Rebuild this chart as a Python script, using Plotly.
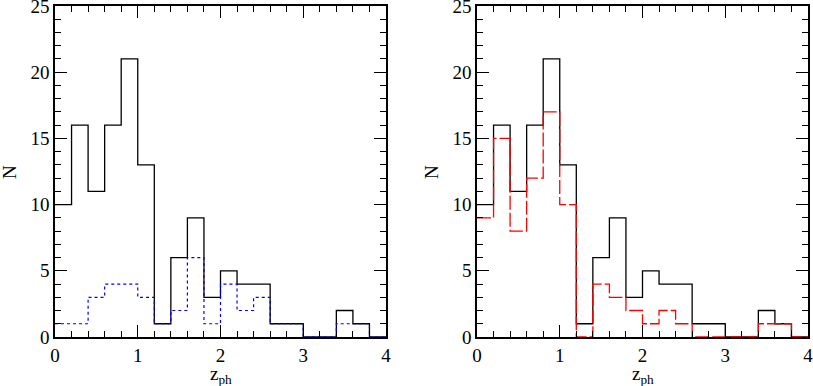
import plotly.graph_objects as go

# bin edges of the z_ph histograms (width 0.2)
edges = [round(0.2 * i, 1) for i in range(21)]

n_all = [10, 16, 11, 16, 21, 13, 1, 6, 9, 3, 5, 4, 4, 1, 1, 0, 0, 2, 1, 0]
n_blue = [1, 1, 3, 4, 4, 3, 1, 2, 6, 1, 4, 2, 3, 1, 1, 0, 0, 1, 1, 0]
n_red = [9, 15, 8, 12, 17, 10, 0, 4, 3, 2, 1, 2, 1, 0, 0, 0, 0, 1, 1, 0]

x_ticks = [0, 1, 2, 3, 4]
y_ticks = [0, 5, 10, 15, 20, 25]

font = "Liberation Serif"
W, H = 813, 386


def step(counts):
    return counts + [counts[-1]]


fig = go.Figure()

fig.add_scatter(x=edges, y=step(n_all), mode="lines", line_shape="hv",
                line=dict(color="black", width=1.3), xaxis="x", yaxis="y")
fig.add_scatter(x=edges, y=step(n_blue), mode="lines", line_shape="hv",
                line=dict(color="blue", width=1.2, dash="dot"), xaxis="x", yaxis="y")

fig.add_scatter(x=edges, y=step(n_all), mode="lines", line_shape="hv",
                line=dict(color="black", width=1.3), xaxis="x2", yaxis="y2")
fig.add_scatter(x=edges, y=step(n_red), mode="lines", line_shape="hv",
                line=dict(color="red", width=1.3, dash="14px,3px"), xaxis="x2", yaxis="y2")

xstyle = dict(range=[0, 4], tickvals=x_ticks, ticks="inside", ticklen=12,
              tickwidth=1.3, tickcolor="black", showline=True, linecolor="black",
              linewidth=1.5, mirror="allticks", showgrid=False, zeroline=False,
              automargin=False, ticklabeloverflow="allow",
              minor=dict(ticks="inside", dtick=0.2, ticklen=6, tickcolor="black",
                         tickwidth=1.1, showgrid=False),
              tickfont=dict(family=font, size=19, color="black"))
ystyle = dict(range=[0, 25], tickvals=y_ticks, ticks="inside", ticklen=12,
              tickwidth=1.3, tickcolor="black", showline=True, linecolor="black",
              linewidth=1.5, mirror="allticks", showgrid=False, zeroline=False,
              automargin=False, ticklabeloverflow="allow",
              minor=dict(ticks="inside", dtick=1, ticklen=6, tickcolor="black",
                         tickwidth=1.1, showgrid=False),
              tickfont=dict(family=font, size=19, color="black"))

left = [55 / W, 386 / W]
right = [477 / W, 808 / W]
ydom = [1 - 337 / H, 1 - 6 / H]

# axis titles placed by hand (pixel positions from the reference)
titles = []
for dom in (left, right):
    titles.append(dict(text="z<sub>ph</sub>", x=(dom[0] + dom[1]) / 2, y=1 - 375 / H,
                       xref="paper", yref="paper", showarrow=False,
                       xanchor="center", yanchor="middle",
                       font=dict(family=font, size=19, color="black")))
    titles.append(dict(text="N", x=dom[0] - 46 / W, y=1 - 172 / H, textangle=-90,
                       xref="paper", yref="paper", showarrow=False,
                       xanchor="center", yanchor="middle",
                       font=dict(family=font, size=19, color="black")))

fig.update_layout(
    width=W, height=H,
    margin=dict(l=0, r=0, t=0, b=0),
    paper_bgcolor="white", plot_bgcolor="white",
    showlegend=False,
    xaxis=dict(xstyle, domain=left, anchor="y"),
    yaxis=dict(ystyle, domain=ydom, anchor="x"),
    xaxis2=dict(xstyle, domain=right, anchor="y2"),
    yaxis2=dict(ystyle, domain=ydom, anchor="x2"),
    annotations=titles,
)

fig.write_html("out.html", config={"displayModeBar": False},
               post_script="document.body.style.margin='0';")
